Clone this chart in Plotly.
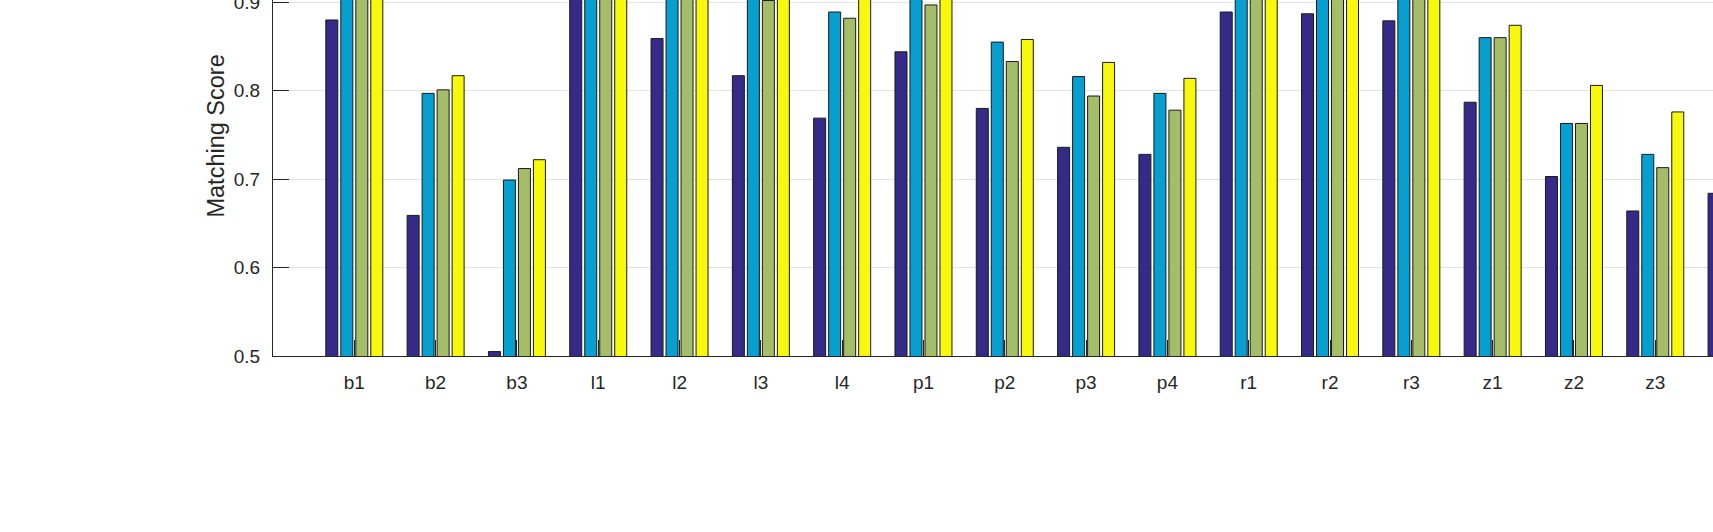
import plotly.graph_objects as go

categories = ["b1", "b2", "b3", "l1", "l2", "l3", "l4", "p1", "p2", "p3", "p4",
              "r1", "r2", "r3", "z1", "z2", "z3", "z4"]

# Four methods (values above ~0.9 are outside the visible crop and are estimates)
method_1 = [0.880, 0.659, 0.505, 0.925, 0.859, 0.817, 0.769, 0.844, 0.780, 0.736, 0.728,
            0.889, 0.887, 0.879, 0.787, 0.703, 0.664, 0.684]
method_2 = [0.940, 0.797, 0.699, 0.950, 0.930, 0.935, 0.889, 0.915, 0.855, 0.816, 0.797,
            0.945, 0.940, 0.935, 0.860, 0.763, 0.728, None]
method_3 = [0.945, 0.801, 0.712, 0.955, 0.935, 0.902, 0.882, 0.897, 0.833, 0.794, 0.778,
            0.950, 0.945, 0.940, 0.860, 0.763, 0.713, None]
method_4 = [0.950, 0.817, 0.722, 0.960, 0.940, 0.940, 0.910, 0.920, 0.858, 0.832, 0.814,
            0.955, 0.950, 0.945, 0.874, 0.806, 0.776, None]

series = [method_1, method_2, method_3, method_4]
colors = ["#352a87", "#069fd0", "#a5bd69", "#f8f80c"]

y_ticks = [0.5, 0.6, 0.7, 0.8, 0.9]
y_tick_text = ["0.5", "0.6", "0.7", "0.8", "0.9"]
y_title = "Matching Score"

fig = go.Figure()
for vals, col in zip(series, colors):
    fig.add_trace(go.Bar(
        x=categories, y=vals,
        marker=dict(color=col, line=dict(color="#1a1a1a", width=1)),
        showlegend=False,
    ))

axis_color = "#262626"
font_family = "Liberation Sans, Arial, Helvetica, sans-serif"

fig.update_layout(
    width=1713, height=532,
    margin=dict(l=273, r=0, t=0, b=176, autoexpand=False),
    paper_bgcolor="white", plot_bgcolor="white",
    barmode="group", bargap=0.262, bargroupgap=0.2,
    font=dict(family=font_family, color=axis_color, size=19),
    xaxis=dict(
        type="category", range=[-1, 16.71], automargin=False,
        showline=True, linecolor=axis_color, linewidth=1,
        ticks="inside", ticklen=16, tickcolor=axis_color, tickwidth=1,
        showgrid=False, zeroline=False,
        tickfont=dict(size=19, color=axis_color),
        ticklabelstandoff=9,
    ),
    yaxis=dict(
        range=[0.5, 0.9026], automargin=False,
        tickvals=y_ticks, ticktext=y_tick_text,
        showline=True, linecolor=axis_color, linewidth=1,
        ticks="inside", ticklen=16, tickcolor=axis_color, tickwidth=1,
        showgrid=True, gridcolor="#e3e3e3", gridwidth=1,
        zeroline=False,
        tickfont=dict(size=19, color=axis_color),
        ticklabelstandoff=8,
        ticklabeloverflow="allow",
    ),
    annotations=[dict(
        text=y_title, textangle=-90,
        xref="paper", yref="paper", x=-0.0399, y=0.618,
        xanchor="center", yanchor="middle", showarrow=False,
        font=dict(size=23.5, color=axis_color, family=font_family),
    )],
)

fig.write_html("out.html")
